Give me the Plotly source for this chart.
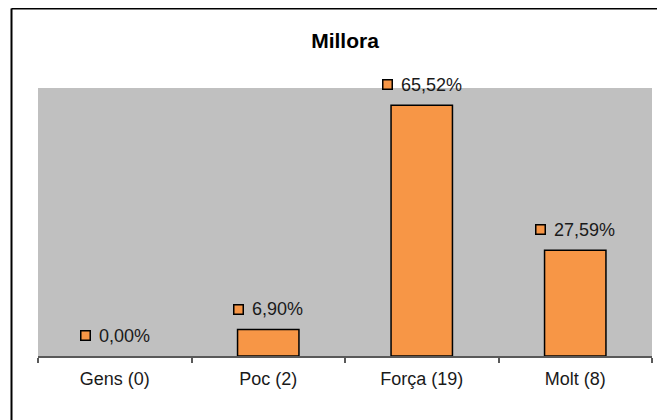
import plotly.graph_objects as go

categories = ["Gens (0)", "Poc (2)", "Força (19)", "Molt (8)"]
values = [0.00, 6.90, 65.52, 27.59]
value_labels = ["0,00%", "6,90%", "65,52%", "27,59%"]

BAR_COLOR = "#F79646"
BG_GRAY = "#C0C0C0"
FONT = "Liberation Sans, Arial, sans-serif"
LABEL_SIZE = 18

# page body has an 8px margin; figure coordinates = screen - 8
OFF = 8
W, H = 665 - OFF, 420 - OFF
ML, MR, MT, MB = 38 - OFF, 13, 88 - OFF, 64

def text_width(s, size):
    w = 0.0
    for ch in s:
        if ch.isdigit():
            w += 0.556
        elif ch == ",":
            w += 0.278
        elif ch == "%":
            w += 0.889
        else:
            w += 0.5
    return w * size

fig = go.Figure()
fig.add_trace(go.Bar(
    x=categories, y=values, width=0.4,
    marker=dict(color=BAR_COLOR,
                line=dict(color="#000000", width=[1.5 if v > 0 else 0 for v in values])),
    hoverinfo="skip",
))

SQ = 8     # inner square size
GAP = 8
LIFT = 20.5
annotations = []
for c, v, lab in zip(categories, values, value_labels):
    tw = text_width(lab, LABEL_SIZE)
    total = SQ + 3 + GAP + tw
    sq_center = -total / 2 + (SQ + 3) / 2
    txt_center = -total / 2 + SQ + 3 + GAP + tw / 2
    annotations.append(dict(
        x=c, y=v, xref="x", yref="y", text=" ", showarrow=False,
        width=SQ, height=SQ, bgcolor=BAR_COLOR, bordercolor="#000000",
        borderwidth=1.5, borderpad=0, font=dict(size=4),
        xshift=sq_center, yshift=LIFT, xanchor="center", yanchor="middle",
    ))
    annotations.append(dict(
        x=c, y=v, xref="x", yref="y", text=lab, showarrow=False,
        font=dict(family=FONT, size=LABEL_SIZE, color="#1a1a1a"),
        xshift=txt_center, yshift=LIFT, xanchor="center", yanchor="middle",
    ))

pw = W - ML - MR
ph = H - MT - MB
def px_to_paper_x(px):
    return (px - OFF - ML) / pw
def px_to_paper_y(py):
    return (H - MB - (py - OFF)) / ph

bx, by = px_to_paper_x(11.5), px_to_paper_y(8.5)
shapes = [
    dict(type="line", xref="paper", yref="paper", x0=bx, x1=bx,
         y0=px_to_paper_y(440), y1=by, line=dict(color="#000000", width=2)),
    dict(type="line", xref="paper", yref="paper", x0=bx, x1=px_to_paper_x(680),
         y0=by, y1=by, line=dict(color="#000000", width=2)),
]

fig.update_layout(
    width=W, height=H,
    margin=dict(l=ML, r=MR, t=MT, b=MB),
    paper_bgcolor="white",
    plot_bgcolor=BG_GRAY,
    showlegend=False,
    title=dict(text="<b>Millora</b>", x=0.5, xref="paper", xanchor="center",
               y=1 - (41 - OFF) / H, yref="container", yanchor="middle",
               font=dict(family=FONT, size=21, color="#000000")),
    xaxis=dict(type="category", showline=True, linecolor="#595959", linewidth=2,
               ticks="outside", tickson="boundaries", ticklen=5, tickwidth=1.5,
               tickcolor="#595959", showgrid=False, zeroline=False,
               ticklabelstandoff=5,
               tickfont=dict(family=FONT, size=LABEL_SIZE, color="#1a1a1a")),
    yaxis=dict(range=[0, 70], visible=False, showgrid=False, zeroline=False),
    annotations=annotations,
    shapes=shapes,
)

fig.write_html("out.html")
